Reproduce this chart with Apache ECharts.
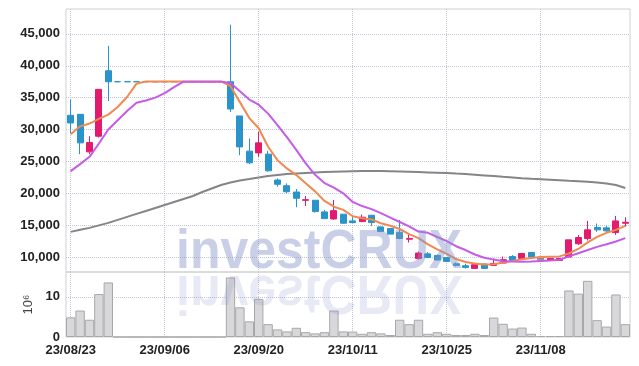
<!DOCTYPE html>
<html><head><meta charset="utf-8">
<script src="https://cdn.jsdelivr.net/npm/echarts@6/dist/echarts.min.js"></script>
<style>html,body{margin:0;padding:0;background:#fff}#c{width:639px;height:366px}</style>
</head><body><div id="c"></div>
<script>
const dates = ['23/08/23','23/08/24','23/08/25','23/08/28','23/08/29','23/08/30','23/08/31','23/09/01','23/09/04','23/09/05',
'23/09/06','23/09/07','23/09/08','23/09/11','23/09/12','23/09/13','23/09/14','23/09/15','23/09/18','23/09/19',
'23/09/20','23/09/21','23/09/22','23/09/25','23/09/26','23/09/27','23/10/04','23/10/05','23/10/06','23/10/10',
'23/10/11','23/10/12','23/10/13','23/10/16','23/10/17','23/10/18','23/10/19','23/10/20','23/10/23','23/10/24',
'23/10/25','23/10/26','23/10/27','23/10/30','23/10/31','23/11/01','23/11/02','23/11/03','23/11/06','23/11/07',
'23/11/08','23/11/09','23/11/10','23/11/13','23/11/14','23/11/15','23/11/16','23/11/17','23/11/20','23/11/21'];
// [open, close, low, high]
const ohlc = [
[32230,31030,29420,34690],[32390,27910,26140,32390],[26500,27970,26140,28950],[28950,36300,28750,36300],[39220,37500,34470,43130],
[37500,37500,37500,37500],[37500,37500,37500,37500],[37500,37500,37500,37500],[37500,37500,37500,37500],[37500,37500,37500,37500],
[37500,37500,37500,37500],[37500,37500,37500,37500],[37500,37500,37500,37500],[37500,37500,37500,37500],[37500,37500,37500,37500],
[37500,37500,37500,37500],[37500,37500,37500,37500],[37500,33220,32750,46450],[32130,27280,25980,32130],[26610,24780,24580,28590],
[26340,27910,25720,29630],[26140,23530,23400,26660],[22080,21410,21030,22340],[21190,20250,20000,21560],[20200,19220,17810,20670],
[18900,19000,18000,19580],[18910,17130,17000,18910],[17080,16030,16000,17390],[15980,17280,15830,18950],[16720,15310,15250,16720],
[15670,15400,15400,16340],[15560,16250,15560,16660],[16560,15410,14890,16560],[14730,14000,14000,14730],[14470,13600,13600,14470],
[13840,12910,12800,15830],[12800,12900,12280,13750],[9780,10630,9580,10880],[10500,9940,9900,10780],[10250,9530,9500,10400],
[9940,9310,9310,9940],[8950,8690,8530,9160],[8640,8380,8200,8950],[8220,8800,8220,8800],[8900,8220,8220,9000],
[8690,9000,8690,9780],[9060,9580,9000,10090],[10090,9420,9420,10300],[9780,10560,9780,10560],[10720,10000,10000,10720],
[10000,9580,9580,10000],[9470,9780,9470,9780],[9470,9780,9470,9780],[10000,12700,10000,12700],[12080,13060,11880,13440],
[12900,14270,12600,15670],[14630,14270,13950,15250],[14580,14110,13750,14900],[13840,15670,13480,16450],[15300,15450,14780,16250]];
const ma5 = [29270,30500,30940,31660,32340,33530,35100,37190,37550,37550,37550,37550,37550,37550,37550,37550,37550,36800,34300,31800,
30200,27300,25200,23900,22860,21560,20300,18800,17900,17400,16400,16100,15900,15300,14900,14400,13600,12970,12000,11200,
10500,9690,9230,9000,8820,8870,9150,9400,9650,9850,10000,10050,10100,10560,11270,12300,13170,13800,14270,14890];
const ma10 = [23480,24580,25720,27810,30000,31450,32900,34200,34550,35000,35700,36650,37500,37500,37500,37500,37500,37300,36000,34700,
33900,32500,30700,28800,26800,24700,22900,21600,20900,20000,18650,18000,17520,16880,16190,15500,14800,14000,13800,13150,
12500,11700,11100,10400,9900,9600,9350,9300,9280,9300,9380,9450,9580,10100,10600,11100,11600,12000,12450,12970];
const maLong = [13950,14270,14580,14970,15360,15830,16300,16770,17230,17700,18170,18640,19110,19580,20200,20750,21300,21690,22000,22230,
22470,22700,22860,23020,23120,23200,23280,23330,23380,23420,23450,23480,23480,23480,23450,23420,23380,23330,23280,23230,
23170,23090,23020,22920,22810,22700,22580,22470,22360,22270,22190,22110,22030,21950,21880,21800,21690,21530,21300,20830];
const volume = [4.9,6.6,4.3,10.7,13.6,0,0,0,0,0,0,0,0,0,0,0,0,14.85,7.4,3.9,
9.5,3.2,1.9,1.4,2.3,1.2,0.9,1.2,6.6,1.4,1.35,0.8,1.2,0.9,0.5,4.3,3.2,4.3,0.8,1.2,
0.8,0.5,0.5,0.8,0.5,4.85,3.3,2.1,2.35,0.8,0.25,0.25,0.25,11.6,10.8,14.0,4.2,2.6,10.6,3.2];
const grayCandles = ['23/11/08'];
const priceRange = [7656, 48906];
const volRange = [0, 16.2];
const watermark = 'investCRUX';

const FONT = '"Liberation Sans",Arial,sans-serif';
const UP = '#e31b6d', DOWN = '#2a93c9';
const splitStyle = {type:'dotted', color:'#c2c5d6', width:1};
const candleData = ohlc.map((d,i)=> grayCandles.includes(dates[i])
  ? {value:d, itemStyle:{color:'#8e9096', color0:'#8e9096', borderColor:'#8e9096', borderColor0:'#8e9096'}} : d);
const chart = echarts.init(document.getElementById('c'), null, {renderer:'canvas'});
chart.setOption({
  animation:false,
  backgroundColor:'#fff',
  grid:[
    {left:66, right:9, top:9, height:263, show:true, borderColor:'#d0d0d0', borderWidth:1, containLabel:false},
    {left:66, right:9, top:272, height:65, show:true, borderColor:'#d0d0d0', borderWidth:1, containLabel:false}
  ],
  xAxis:[
    {type:'category', gridIndex:0, data:dates, boundaryGap:true,
     axisLine:{show:false}, axisTick:{show:false}, axisLabel:{show:false},
     splitLine:{show:true, interval:9, alignWithLabel:true, lineStyle:splitStyle}},
    {type:'category', gridIndex:1, data:dates, boundaryGap:true,
     axisLine:{show:false}, axisTick:{show:false},
     axisLabel:{show:true, interval:9, margin:7, color:'#222', fontFamily:FONT, fontSize:13, fontWeight:'bold'},
     splitLine:{show:true, interval:9, alignWithLabel:true, lineStyle:splitStyle}}
  ],
  yAxis:[
    {type:'value', gridIndex:0, min:priceRange[0], max:priceRange[1], splitNumber:8, scale:true,
     axisLine:{show:false}, axisTick:{show:false},
     axisLabel:{margin:6, color:'#222', fontFamily:FONT, fontSize:13, fontWeight:'bold', showMinLabel:false, showMaxLabel:false,
       formatter:v=>v.toLocaleString('en-US')},
     splitLine:{show:true, showMinLine:false, showMaxLine:false, lineStyle:splitStyle}},
    {type:'value', gridIndex:1, min:volRange[0], max:volRange[1], splitNumber:2,
     name:'10⁶', nameLocation:'middle', nameRotate:90, nameGap:21,
     nameTextStyle:{color:'#444', fontFamily:FONT, fontSize:13},
     axisLine:{show:false}, axisTick:{show:false},
     axisLabel:{margin:6, color:'#222', fontFamily:FONT, fontSize:13, fontWeight:'bold', showMaxLabel:false},
     splitLine:{show:true, showMinLine:false, showMaxLine:false, lineStyle:splitStyle}}
  ],
  series:[
    {type:'candlestick', xAxisIndex:0, yAxisIndex:0, data:candleData, barWidth:6.5,
     itemStyle:{color:UP, color0:DOWN, borderColor:UP, borderColor0:DOWN, borderColorDoji:DOWN, borderWidth:1}},
    {type:'line', xAxisIndex:0, yAxisIndex:0, data:maLong, symbol:'none', lineStyle:{color:'#858585', width:2}},
    {type:'line', xAxisIndex:0, yAxisIndex:0, data:ma5, symbol:'none', lineStyle:{color:'#ef8a52', width:2}},
    {type:'line', xAxisIndex:0, yAxisIndex:0, data:ma10, symbol:'none', lineStyle:{color:'#c55be8', width:2}},
    {type:'bar', xAxisIndex:1, yAxisIndex:1, data:volume, barCategoryGap:'0%',
     itemStyle:{color:'#d8d8da', borderColor:'#a8a8aa', borderWidth:1}}
  ],
  graphic:[
    {type:'text', x:176, y:252.6, scaleY:1.12, z:100, silent:true,
     style:{text:watermark, font:'bold 50px "Liberation Sans"', fill:'rgba(133,149,200,0.45)', textAlign:'left', verticalAlign:'middle'}},
    {type:'text', x:176, y:291.4, scaleY:-1.12, z:100, silent:true,
     style:{text:watermark, font:'bold 50px "Liberation Sans"', fill:'rgba(133,149,200,0.2)', textAlign:'left', verticalAlign:'middle'}}
  ]
});
</script></body></html>
